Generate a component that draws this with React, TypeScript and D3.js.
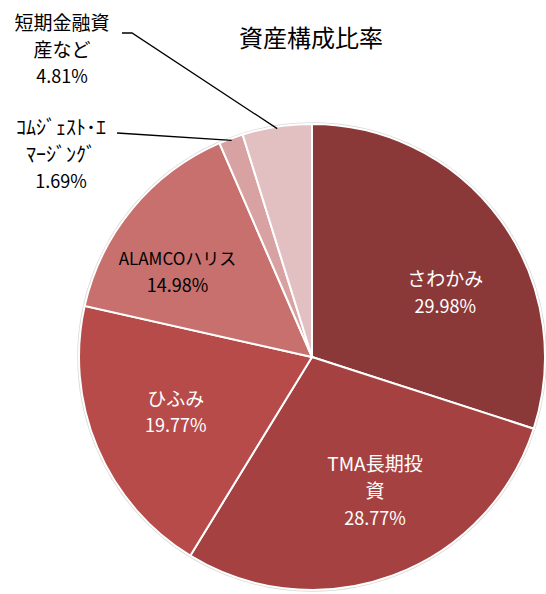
import React from "react";
import * as d3 from "d3";

const categories = ["さわかみ", "TMA長期投資", "ひふみ", "ALAMCOハリス", "ｺﾑｼﾞｪｽﾄ･ｴﾏｰｼﾞﾝｸﾞ", "短期金融資産など"];
const labelLines = [["さわかみ"], ["TMA長期投", "資"], ["ひふみ"], ["ALAMCOハリス"], ["ｺﾑｼﾞｪｽﾄ･ｴ", "ﾏｰｼﾞﾝｸﾞ"], ["短期金融資", "産など"]];
const values = [29.98, 28.77, 19.77, 14.98, 1.69, 4.81];
const colors = ["#8b3838", "#a54241", "#b74b49", "#c7706e", "#d8a2a2", "#e2c0c2"];
const textColors = ["#ffffff", "#ffffff", "#ffffff", "#000000", "#000000", "#000000"];
const title = "資産構成比率";

const W = 546, H = 594;
const cx = 312, cy = 357, R = 233;
const FONT = "'Noto Sans CJK JP', 'Noto Sans', sans-serif";
const LH = 27;

export default function App() {
  const pie = d3.pie<number>().sort(null).value((d) => d)(values);
  const arc = d3.arc<d3.PieArcDatum<number>>().innerRadius(0).outerRadius(R);
  const labelArc = d3.arc<d3.PieArcDatum<number>>().innerRadius(300).outerRadius(300);
  const outerArc = d3.arc<d3.PieArcDatum<number>>().innerRadius(R - 2).outerRadius(R - 2);

  // layout nudges for inside labels (Excel-like placement)
  const nudge: [number, number][] = [[12, 24], [11, -6], [2, -3], [-19, 11], [0, 0], [0, 0]];
  const nameSize = [19, 19, 19, 17, 20, 19];
  const pctSize = [18, 18, 18, 18, 18, 18];

  // outside labels anchor (block center) for small slices
  const outside: Record<number, { x: number; y: number; lh: number; line: [number, number][] }> = {
    4: { x: 61, y: 155, lh: 27, line: [[117, 133]] },
    5: { x: 62, y: 50, lh: 27, line: [[122, 33], [132, 33]] },
  };

  return (
    <svg width={W} height={H} style={{ position: "absolute", left: 0, top: 0 }}>
      <rect width={W} height={H} fill="#ffffff" />
      <text x={311} y={39} dy="0.35em" textAnchor="middle" fontFamily={FONT} fontSize={24} fill="#000">{title}</text>
      <g transform={`translate(${cx},${cy})`}>
        <circle r={R + 1} fill="none" stroke="#d9d9d9" strokeWidth={1.5} />
        {pie.map((p, i) => (
          <path key={categories[i]} d={arc(p) || ""} fill={colors[i]} stroke="#ffffff" strokeWidth={2} />
        ))}
      </g>
      {pie.map((p, i) => {
        const lines = [...labelLines[i], `${values[i].toFixed(2)}%`];
        let bx: number, by: number, lh = LH;
        let leader: React.ReactNode = null;
        if (outside[i]) {
          bx = outside[i].x;
          by = outside[i].y;
          lh = outside[i].lh;
          const [ex, ey] = outerArc.centroid(p);
          const pts = [...outside[i].line, [cx + ex, cy + ey]];
          leader = <polyline points={pts.map((q) => q.join(",")).join(" ")} fill="none" stroke="#000" strokeWidth={1.3} />;
        } else {
          const [lx, ly] = labelArc.centroid(p);
          bx = cx + lx / 2 + nudge[i][0];
          by = cy + ly / 2 + nudge[i][1];
        }
        const top = by - ((lines.length - 1) * lh) / 2;
        return (
          <g key={"l" + i}>
            {leader}
            <text textAnchor="middle" fontFamily={FONT} fill={textColors[i]}>
              {lines.map((t, k) => (
                <tspan key={k} x={bx} y={top + k * lh} dy="0.35em" fontSize={k === lines.length - 1 ? pctSize[i] : nameSize[i]}>{t}</tspan>
              ))}
            </text>
          </g>
        );
      })}
    </svg>
  );
}
